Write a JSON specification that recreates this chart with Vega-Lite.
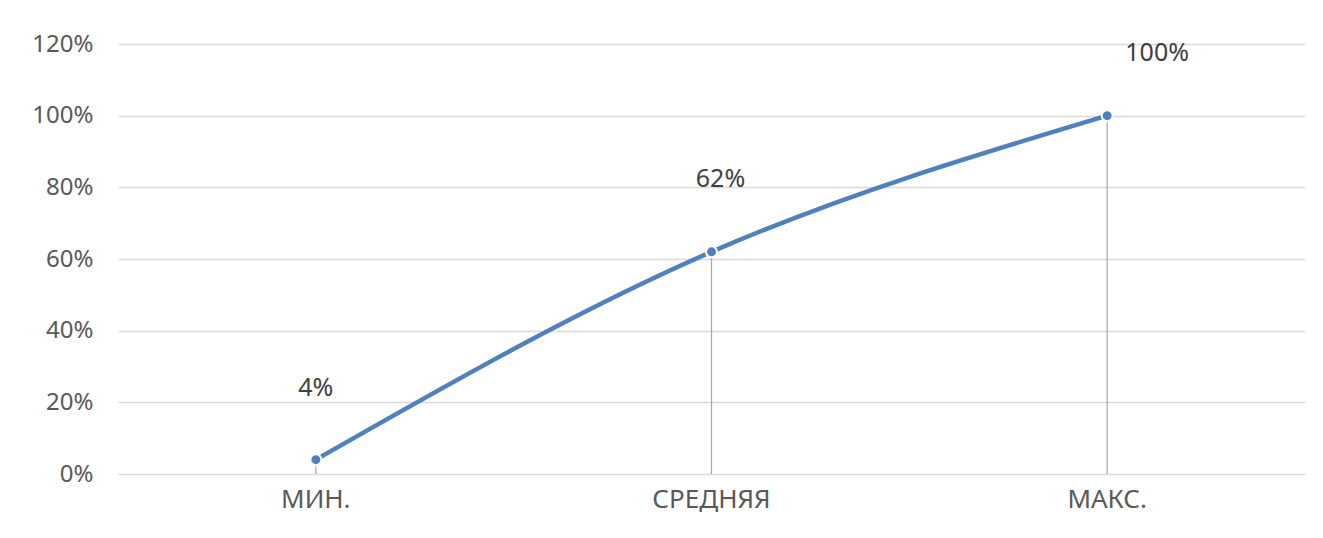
{
  "$schema": "https://vega.github.io/schema/vega-lite/v6.json",
  "width": 1187,
  "height": 430,
  "autosize": {"type": "none"},
  "padding": {"left": 118, "top": 44, "right": 18, "bottom": 64},
  "background": "white",
  "config": {
    "view": {"stroke": null},
    "font": "Noto Sans"
  },
  "data": {
    "values": [
      {"cat": "МИН.", "value": 0.04},
      {"cat": "СРЕДНЯЯ", "value": 0.62},
      {"cat": "МАКС.", "value": 1.0}
    ]
  },
  "encoding": {
    "x": {
      "field": "cat",
      "type": "nominal",
      "sort": null,
      "scale": {"paddingInner": 0, "paddingOuter": 0},
      "axis": {
        "title": null,
        "labelAngle": 0,
        "labelFont": "Noto Sans",
        "labelFontSize": 26,
        "labelColor": "#595959",
        "labelPadding": 12,
        "ticks": false,
        "domain": false,
        "grid": false
      }
    },
    "y": {
      "field": "value",
      "type": "quantitative",
      "scale": {"domain": [0, 1.2]},
      "axis": {
        "title": null,
        "format": ".0%",
        "values": [0, 0.2, 0.4, 0.6, 0.8, 1.0, 1.2],
        "labelFont": "Noto Sans",
        "labelFontSize": 24,
        "labelColor": "#595959",
        "labelPadding": 25,
        "ticks": false,
        "domain": false,
        "grid": true,
        "gridColor": "#D9D9D9",
        "gridWidth": 1.3
      }
    }
  },
  "layer": [
    {
      "mark": {"type": "rule", "color": "#A6A6A6", "strokeWidth": 1.2},
      "encoding": {"y2": {"datum": 0}}
    },
    {
      "mark": {"type": "line", "color": "#4F81BD", "strokeWidth": 4.5, "interpolate": "monotone"}
    },
    {
      "mark": {"type": "point", "filled": true, "shape": "circle", "size": 120, "color": "#4F81BD", "stroke": "white", "strokeWidth": 2, "opacity": 1}
    },
    {
      "transform": [{"filter": "datum.value < 0.5"}],
      "mark": {"type": "text", "fontSize": 25, "color": "#404040", "dy": -72, "font": "Noto Sans"},
      "encoding": {"text": {"field": "value", "format": ".0%"}}
    },
    {
      "transform": [{"filter": "datum.value >= 0.5 && datum.value < 1"}],
      "mark": {"type": "text", "fontSize": 25, "color": "#404040", "dy": -73, "dx": 9, "font": "Noto Sans"},
      "encoding": {"text": {"field": "value", "format": ".0%"}}
    },
    {
      "transform": [{"filter": "datum.value >= 1"}],
      "mark": {"type": "text", "fontSize": 25, "color": "#404040", "dy": -63, "dx": 50, "font": "Noto Sans"},
      "encoding": {"text": {"field": "value", "format": ".0%"}}
    }
  ]
}
